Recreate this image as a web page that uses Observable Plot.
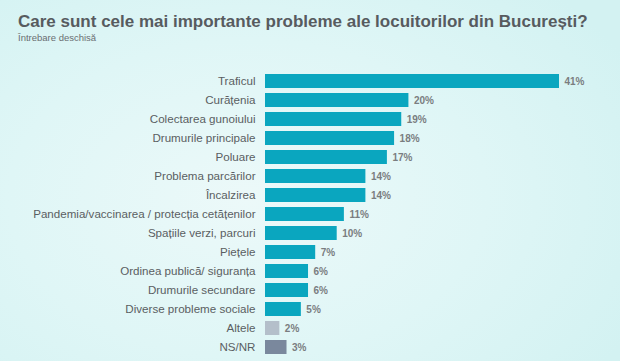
<!DOCTYPE html>
<html>
<head>
<meta charset="utf-8">
<script src="https://cdn.jsdelivr.net/npm/d3@7"></script>
<script src="https://cdn.jsdelivr.net/npm/@observablehq/plot@0.6"></script>
<style>
  html, body { margin: 0; padding: 0; }
  #wrap {
    width: 620px; height: 361px; overflow: hidden; position: relative;
    background: radial-gradient(ellipse 70% 80% at 40% 55%, #ecf9f9 0%, #dff6f6 55%, #d3f2f2 100%);
    font-family: "Liberation Sans", Arial, sans-serif;
  }
  #head { height: 47px; box-sizing: border-box; padding: 12px 0 0 18px; }
  #title { font-size: 17px; font-weight: bold; color: #575b5f; line-height: 19px; }
  #sub { font-family: "Liberation Sans Narrow", "Liberation Sans", Arial, sans-serif; font-size: 9.5px; color: #6a6e72; line-height: 11px; margin-top: 1px; }
  svg { display: block; background: transparent !important; }
</style>
</head>
<body>
<div id="wrap">
  <div id="head">
    <div id="title">Care sunt cele mai importante probleme ale locuitorilor din București?</div>
    <div id="sub">Întrebare deschisă</div>
  </div>
  <div id="chart"></div>
</div>
<script>
const categories = [
  "Traficul",
  "Curățenia",
  "Colectarea gunoiului",
  "Drumurile principale",
  "Poluare",
  "Problema parcărilor",
  "Încalzirea",
  "Pandemia/vaccinarea / protecția cetățenilor",
  "Spațiile verzi, parcuri",
  "Piețele",
  "Ordinea publică/ siguranța",
  "Drumurile secundare",
  "Diverse probleme sociale",
  "Altele",
  "NS/NR"
];
const values = [41, 20, 19, 18, 17, 14, 14, 11, 10, 7, 6, 6, 5, 2, 3];
const groups = ["main","main","main","main","main","main","main","main","main","main","main","main","main","other","nsnr"];

const data = categories.map((c, i) => ({category: c, value: values[i], group: groups[i]}));

const chart = Plot.plot({
  width: 620,
  height: 314,
  marginTop: 22.7,
  marginBottom: 1.7,
  marginLeft: 265,
  marginRight: 61,
  style: {background: "transparent", fontFamily: "'Liberation Sans', Arial, sans-serif"},
  x: {domain: [0, 41], axis: null},
  y: {domain: categories, padding: 0.24, label: null},
  color: {domain: ["main", "other", "nsnr"], range: ["#0aa6bf", "#b4bfca", "#7a889d"]},
  marks: [
    Plot.barX(data, {x: "value", y: "category", fill: "group"}),
    Plot.text(data, {x: "value", y: "category", text: d => d.value + "%", textAnchor: "start", dx: 5, fontSize: 10, fontWeight: "bold", fill: "#7a7d80"}),
    Plot.axisY({tickSize: 0, tickPadding: 10, fontSize: 11.6, color: "#5a5e62", label: null})
  ]
});
document.getElementById("chart").appendChild(chart);
</script>
</body>
</html>
